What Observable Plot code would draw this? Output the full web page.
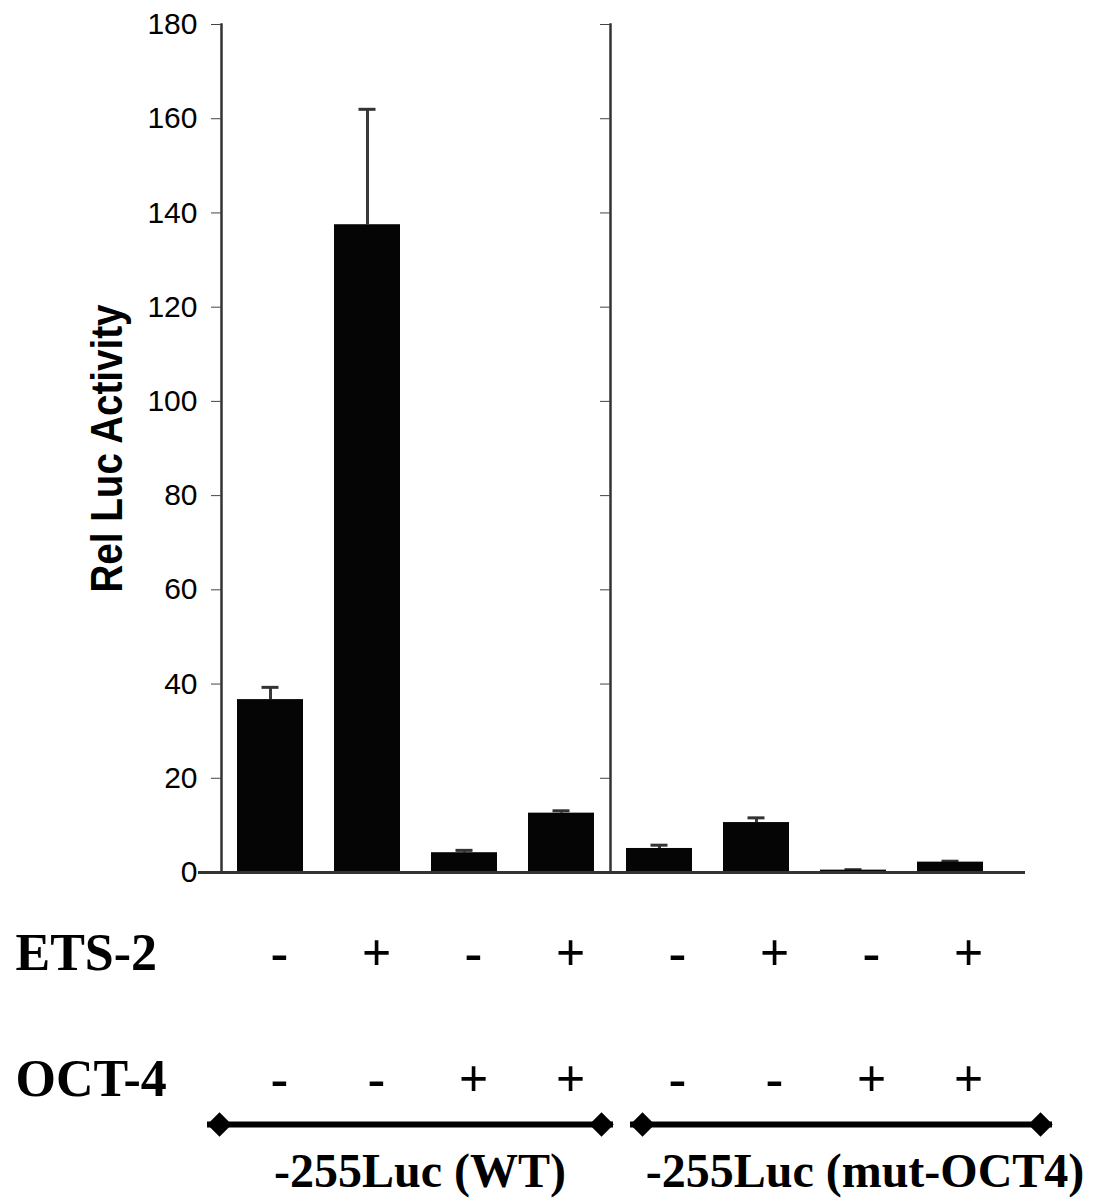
<!DOCTYPE html>
<html>
<head>
<meta charset="utf-8">
<script src="https://cdn.jsdelivr.net/npm/d3@7"></script>
<script src="https://cdn.jsdelivr.net/npm/@observablehq/plot@0.6"></script>
<style>
  html, body { margin: 0; padding: 0; background: #fff; }
  #chart { width: 1098px; height: 1198px; }
</style>
</head>
<body>
<div id="chart"></div>
<script>
// ---- data ----
const groupNames = ["-255Luc (WT)", "-255Luc (mut-OCT4)"];
const barGroup = ["-255Luc (WT)", "-255Luc (WT)", "-255Luc (WT)", "-255Luc (WT)",
                  "-255Luc (mut-OCT4)", "-255Luc (mut-OCT4)", "-255Luc (mut-OCT4)", "-255Luc (mut-OCT4)"];
const barSlot = [1, 2, 3, 4, 1, 2, 3, 4];
const ets2 = ["-", "+", "-", "+", "-", "+", "-", "+"];
const oct4 = ["-", "-", "+", "+", "-", "-", "+", "+"];
const activity = [36.7, 137.5, 4.2, 12.6, 5.1, 10.6, 0.5, 2.2];
const upperError = [39.3, 162.0, 4.7, 13.1, 5.8, 11.6, 0.6, 2.4];
const yTicks = [0, 20, 40, 60, 80, 100, 120, 140, 160, 180];
const rowLabels = ["ETS-2", "OCT-4"];
const yLabel = "Rel Luc Activity";

const table = activity.map((v, i) => ({
  group: barGroup[i], slot: barSlot[i], value: v, upper: upperError[i], ets: ets2[i], oct: oct4[i]
}));

const serif = "'Liberation Serif', 'Times New Roman', serif";
const signDx = {"-255Luc (WT)": 9, "-255Luc (mut-OCT4)": 18};
const lineInsets = {"-255Luc (WT)": [-14, -3], "-255Luc (mut-OCT4)": [20, -53]};
const diamondDx = {"-255Luc (WT)": [-2, -9], "-255Luc (mut-OCT4)": [32, 41]};
const labelDx = {"-255Luc (WT)": 4, "-255Luc (mut-OCT4)": 60};

const marks = [
  Plot.frame({anchor: "left", stroke: "#333", strokeWidth: 2.5}),
  Plot.axisY({facetAnchor: "left", ticks: yTicks, tickSize: 10, tickPadding: 14,
              fontSize: 30, stroke: "#444", label: null, fill: "#000"}),
  Plot.axisY({facetAnchor: "right", ticks: yTicks, tickSize: 10, stroke: "#444",
              tickFormat: () => "", label: null}),
  Plot.ruleX(table, {fx: "group", x: "slot", y1: "value", y2: "upper", stroke: "#3a3a3a", strokeWidth: 3}),
  Plot.tickY(table, {fx: "group", x: "slot", y: "upper", stroke: "#333", strokeWidth: 3, insetLeft: 24.5, insetRight: 24.5}),
  Plot.barY(table, {fx: "group", x: "slot", y: "value", fill: "#050505"}),
  Plot.ruleY([0], {stroke: "#333", strokeWidth: 3, insetLeft: -23, insetRight: -26}),
  Plot.text([yLabel], {fx: () => groupNames[0], frameAnchor: "left", dx: -114, rotate: -90,
                       text: d => d, fontSize: 45, fontWeight: "bold", fill: "#000",
                       textAnchor: "middle", lineAnchor: "middle"}),
  Plot.text([rowLabels[0]], {fx: () => groupNames[0], frameAnchor: "bottom-left", dx: -206, dy: 97,
                       text: d => d, textAnchor: "start", lineAnchor: "bottom",
                       fontFamily: serif, fontWeight: "bold", fontSize: 52, fill: "#000"}),
  Plot.text([rowLabels[1]], {fx: () => groupNames[0], frameAnchor: "bottom-left", dx: -206, dy: 223,
                       text: d => d, textAnchor: "start", lineAnchor: "bottom",
                       fontFamily: serif, fontWeight: "bold", fontSize: 52, fill: "#000"})
];

for (const g of groupNames) {
  const rows = table.filter(d => d.group === g);
  marks.push(
    Plot.text(rows, {fx: "group", x: "slot", text: "ets", frameAnchor: "bottom", dx: signDx[g], dy: 97,
                     lineAnchor: "bottom", fontFamily: serif, fontWeight: "bold", fontSize: 52, fill: "#000"}),
    Plot.text(rows, {fx: "group", x: "slot", text: "oct", frameAnchor: "bottom", dx: signDx[g], dy: 223,
                     lineAnchor: "bottom", fontFamily: serif, fontWeight: "bold", fontSize: 52, fill: "#000"}),
    Plot.ruleY([0], {fx: () => g, dy: 252, stroke: "#000", strokeWidth: 6,
                     insetLeft: lineInsets[g][0], insetRight: lineInsets[g][1]}),
    Plot.dot([g], {fx: d => d, frameAnchor: "bottom-left", dx: diamondDx[g][0], dy: 252,
                   symbol: "diamond2", r: 11, fill: "#000", stroke: null}),
    Plot.dot([g], {fx: d => d, frameAnchor: "bottom-right", dx: diamondDx[g][1], dy: 252,
                   symbol: "diamond2", r: 11, fill: "#000", stroke: null}),
    Plot.text([g], {fx: d => d, text: d => d, frameAnchor: "bottom", dx: labelDx[g], dy: 314,
                    lineAnchor: "bottom", fontFamily: serif, fontWeight: "bold", fontSize: 48, fill: "#000"})
  );
}

const chart = Plot.plot({
  width: 1098,
  height: 1198,
  marginTop: 24,
  marginBottom: 326,
  marginLeft: 221,
  marginRight: 99,
  style: {fontFamily: "'Liberation Sans', Arial, sans-serif", background: "#fff", color: "#000"},
  fx: {domain: groupNames, padding: 0, axis: null},
  x: {domain: [1, 2, 3, 4], paddingInner: 0.32, paddingOuter: 0.16, axis: null},
  y: {domain: [0, 180], axis: null},
  marks
});

chart.querySelectorAll("text").forEach(t => {
  if (t.textContent === yLabel) {
    t.setAttribute("textLength", 288);
    t.setAttribute("lengthAdjust", "spacingAndGlyphs");
  }
});

document.getElementById("chart").appendChild(chart);
</script>
</body>
</html>
